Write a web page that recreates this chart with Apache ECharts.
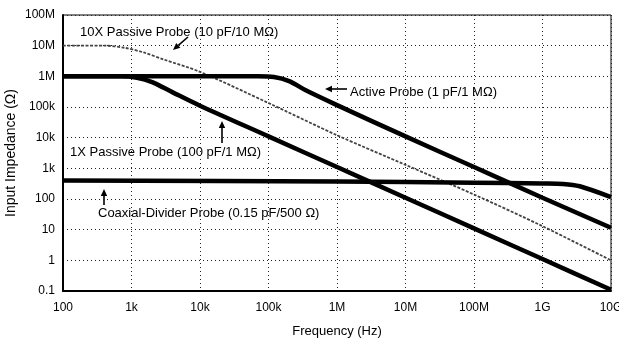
<!DOCTYPE html>
<html>
<head>
<meta charset="utf-8">
<script src="https://cdn.jsdelivr.net/npm/echarts@6/dist/echarts.min.js"></script>
<style>html,body{margin:0;padding:0;background:#fff}#c{width:619px;height:342px}</style>
</head>
<body>
<div id="c"></div>
<script>
// Tick labels
const xTickLabels = ['100','1k','10k','100k','1M','10M','100M','1G','10G'];
const yTickLabels = ['0.1','1','10','100','1k','10k','100k','1M','10M','100M'];

// Series values: [frequency Hz, impedance Ω]
const passive10x = [[100,1e7],[400,1e7],[800,8.5e6],[1500,6e6],[3000,3.5e6],[1e4,1.4e6],[1e5,1.35e5],[1e6,1.2e4],[1e7,1.3e3],[1e8,1.4e2],[1e9,13],[1e10,1]];
const activeProbe = [[100,1e6],[7e4,1e6],[1.2e5,9.5e5],[2e5,7e5],[3.5e5,3.5e5],[1e6,1.15e5],[1e7,1.1e4],[1e8,1.1e3],[1e9,1.1e2],[1e10,11.5]];
const passive1x = [[100,1e6],[700,1e6],[1200,9e5],[2000,6.5e5],[4000,3e5],[1e4,1.1e5],[1e5,1.1e4],[1e6,1.1e3],[1e7,110],[1e8,11],[1e9,1.1],[1e10,0.11]];
const coaxDivider = [[100,400],[1e6,370],[1e8,340],[1e9,320],[2e9,310],[3.5e9,260],[1e10,115]];

const FONT = 'Liberation Sans, Arial, sans-serif';

function arrow(x1,y1,x2,y2){
  const ang = Math.atan2(y2-y1,x2-x1), L=7, W=3.2;
  const bx = x2 - L*Math.cos(ang), by = y2 - L*Math.sin(ang);
  const px = -Math.sin(ang)*W, py = Math.cos(ang)*W;
  return [
    {type:'line',shape:{x1:x1,y1:y1,x2:bx,y2:by},style:{stroke:'#000',lineWidth:1.6}},
    {type:'polygon',shape:{points:[[x2,y2],[bx+px,by+py],[bx-px,by-py]]},style:{fill:'#000'}}
  ];
}
function label(text,x,y){
  return {type:'text',x:x,y:y,style:{text:text,font:'13px '+FONT,fill:'#000',textVerticalAlign:'middle'}};
}

const chart = echarts.init(document.getElementById('c'));
chart.setOption({
  animation:false,
  backgroundColor:'#fff',
  grid:{left:63,right:8,top:15,bottom:51,show:true,borderColor:'#000',borderWidth:1,
    containLabel:false,outerBoundsMode:'none'},
  xAxis:{
    type:'log',logBase:10,min:100,max:1e10,interval:1,
    name:'Frequency (Hz)',nameLocation:'middle',nameGap:34,
    nameTextStyle:{fontFamily:FONT,fontSize:13,color:'#000'},
    axisLine:{show:true,lineStyle:{color:'#000',width:2}},
    axisTick:{show:false},
    axisLabel:{fontFamily:FONT,fontSize:12,color:'#000',margin:11,
      formatter:function(v){return xTickLabels[Math.round(Math.log10(v))-2];}},
    splitLine:{show:true,lineStyle:{color:'#222',type:[1,3],width:1}},
    minorSplitLine:{show:false}
  },
  yAxis:{
    type:'log',logBase:10,min:0.1,max:1e8,interval:1,
    name:'Input Impedance (Ω)',nameLocation:'middle',nameGap:45,nameMoveOverlap:false,
    nameTextStyle:{fontFamily:FONT,fontSize:14,color:'#000'},
    axisLine:{show:true,lineStyle:{color:'#000',width:2}},
    axisTick:{show:false},
    axisLabel:{fontFamily:FONT,fontSize:12,color:'#000',margin:8,
      formatter:function(v){return yTickLabels[Math.round(Math.log10(v))+1];}},
    splitLine:{show:true,lineStyle:{color:'#222',type:[1,3],width:1}}
  },
  series:[
    {name:'10X Passive Probe',type:'line',data:passive10x,smooth:0.3,showSymbol:false,
      lineStyle:{color:'#444',width:1.8,type:[3,1.5]}},
    {name:'Active Probe',type:'line',data:activeProbe,smooth:0.3,showSymbol:false,
      lineStyle:{color:'#000',width:4.5}},
    {name:'1X Passive Probe',type:'line',data:passive1x,smooth:0.3,showSymbol:false,
      lineStyle:{color:'#000',width:4.5}},
    {name:'Coaxial-Divider Probe',type:'line',data:coaxDivider,smooth:0.3,showSymbol:false,
      lineStyle:{color:'#000',width:4.5}}
  ],
  graphic:[
    label('10X Passive Probe (10 pF/10 MΩ)',80,32),
    ...arrow(188,37,173,50),
    label('Active Probe (1 pF/1 MΩ)',350,92),
    ...arrow(347,89,325,89),
    label('1X Passive Probe (100 pF/1 MΩ)',70,152),
    ...arrow(222,143,222,121),
    label('Coaxial-Divider Probe (0.15 pF/500 Ω)',98,213),
    ...arrow(104,205,104,189)
  ]
});
</script>
</body>
</html>
